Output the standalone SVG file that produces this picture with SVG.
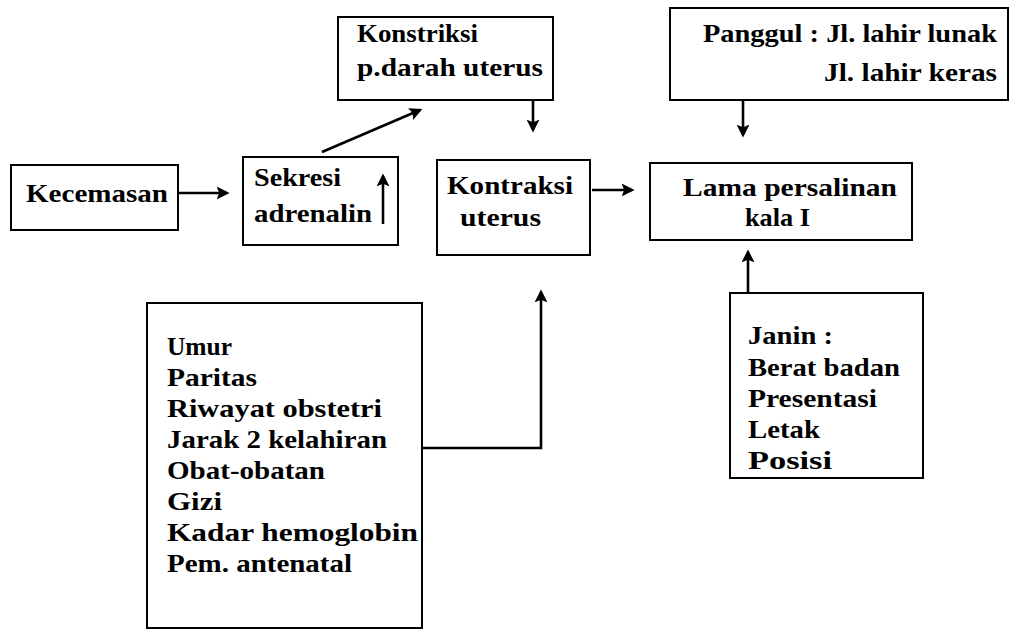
<svg xmlns="http://www.w3.org/2000/svg" width="1012" height="637" viewBox="0 0 1012 637">
<style>
.box{fill:#fff;stroke:#000;stroke-width:2}
.t{font-weight:700;font-size:26px;fill:#000}
.c{fill:none;stroke:#000;stroke-width:2.6}
</style>
<defs>
<marker id="ah" viewBox="0 0 10 10" refX="8" refY="5" markerWidth="5" markerHeight="5" orient="auto" markerUnits="strokeWidth">
<path d="M0,0 L10,5 L0,10 L2,5 z" fill="#000"/>
</marker>
</defs>
<rect width="1012" height="637" fill="#fff"/>
<g font-family="Liberation Serif, Times New Roman, DejaVu Serif, serif">
<g id="kecemasan">
<rect class="box" x="11" y="165" width="167" height="65"/>
<text class="t" x="26" y="202" textLength="142" lengthAdjust="spacingAndGlyphs">Kecemasan</text>
</g>
<g id="sekresi">
<rect class="box" x="243" y="157" width="155" height="88"/>
<text class="t" x="254" y="186" textLength="87" lengthAdjust="spacingAndGlyphs">Sekresi</text>
<text class="t" x="254" y="222" textLength="118" lengthAdjust="spacingAndGlyphs">adrenalin</text>
</g>
<g id="konstriksi">
<rect class="box" x="338" y="17" width="215" height="83"/>
<text class="t" x="357" y="42" textLength="121" lengthAdjust="spacingAndGlyphs">Konstriksi</text>
<text class="t" x="357" y="76" textLength="186" lengthAdjust="spacingAndGlyphs">p.darah uterus</text>
</g>
<g id="kontraksi">
<rect class="box" x="437" y="160" width="153" height="95"/>
<text class="t" x="447" y="194" textLength="126" lengthAdjust="spacingAndGlyphs">Kontraksi</text>
<text class="t" x="460" y="226" textLength="81" lengthAdjust="spacingAndGlyphs">uterus</text>
</g>
<g id="lama">
<rect class="box" x="650" y="163" width="262" height="77"/>
<text class="t" x="683" y="196" textLength="214" lengthAdjust="spacingAndGlyphs">Lama persalinan</text>
<text class="t" x="745" y="226" textLength="65" lengthAdjust="spacingAndGlyphs">kala I</text>
</g>
<g id="panggul">
<rect class="box" x="670" y="8" width="338" height="92"/>
<text class="t" x="703" y="42" textLength="294" lengthAdjust="spacingAndGlyphs">Panggul : Jl. lahir lunak</text>
<text class="t" x="824" y="81" textLength="173" lengthAdjust="spacingAndGlyphs">Jl. lahir keras</text>
</g>
<g id="faktor-ibu">
<rect class="box" x="147" y="303" width="275" height="325"/>
<text class="t" x="167" y="355" textLength="65" lengthAdjust="spacingAndGlyphs">Umur</text>
<text class="t" x="167" y="386" textLength="90" lengthAdjust="spacingAndGlyphs">Paritas</text>
<text class="t" x="167" y="417" textLength="215" lengthAdjust="spacingAndGlyphs">Riwayat obstetri</text>
<text class="t" x="167" y="448" textLength="220" lengthAdjust="spacingAndGlyphs">Jarak 2 kelahiran</text>
<text class="t" x="167" y="479" textLength="158" lengthAdjust="spacingAndGlyphs">Obat-obatan</text>
<text class="t" x="167" y="510" textLength="55" lengthAdjust="spacingAndGlyphs">Gizi</text>
<text class="t" x="167" y="541" textLength="251" lengthAdjust="spacingAndGlyphs">Kadar hemoglobin</text>
<text class="t" x="167" y="572" textLength="185" lengthAdjust="spacingAndGlyphs">Pem. antenatal</text>
</g>
<g id="janin">
<rect class="box" x="730" y="293" width="193" height="185"/>
<text class="t" x="748" y="344" textLength="85" lengthAdjust="spacingAndGlyphs">Janin :</text>
<text class="t" x="748" y="376" textLength="152" lengthAdjust="spacingAndGlyphs">Berat badan</text>
<text class="t" x="748" y="407" textLength="129" lengthAdjust="spacingAndGlyphs">Presentasi</text>
<text class="t" x="748" y="438" textLength="72" lengthAdjust="spacingAndGlyphs">Letak</text>
<text class="t" x="748" y="469" textLength="84" lengthAdjust="spacingAndGlyphs">Posisi</text>
</g>
</g>
<g id="connectors">
<line class="c" x1="178" y1="193" x2="227" y2="193" marker-end="url(#ah)"/>
<line class="c" x1="383" y1="224" x2="383" y2="176" marker-end="url(#ah)"/>
<line class="c" x1="322" y1="152" x2="420" y2="110" marker-end="url(#ah)"/>
<line class="c" x1="533" y1="100" x2="533" y2="130" marker-end="url(#ah)"/>
<line class="c" x1="592" y1="190" x2="632" y2="190" marker-end="url(#ah)"/>
<line class="c" x1="743" y1="100" x2="743" y2="135" marker-end="url(#ah)"/>
<polyline class="c" points="422,448 541,448 541,292" marker-end="url(#ah)"/>
<line class="c" x1="748" y1="293" x2="748" y2="252" marker-end="url(#ah)"/>
</g>
</svg>
